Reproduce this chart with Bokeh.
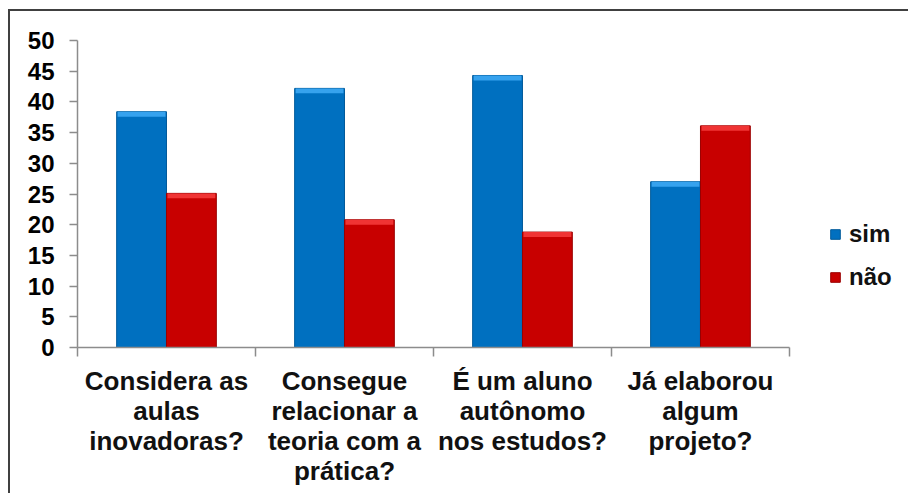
from bokeh.plotting import figure
from bokeh.models import ColumnDataSource, FixedTicker, Legend, LegendItem
from bokeh.embed import file_html
from bokeh.resources import INLINE

categories = ["Considera as\naulas\ninovadoras?",
              "Consegue\nrelacionar a\nteoria com a\nprática?",
              "É um aluno\nautônomo\nnos estudos?",
              "Já elaborou\nalgum\nprojeto?"]
sim = [38.4, 42.2, 44.3, 27.0]
nao = [25.1, 20.8, 18.8, 36.1]
series_names = ["sim", "não"]
y_ticks = [0, 5, 10, 15, 20, 25, 30, 35, 40, 45, 50]

n = len(categories)
centers = [i + 0.5 for i in range(n)]
bar_w = 0.28
bevel = 0.8

src_sim = ColumnDataSource(dict(
    x=[c - bar_w / 2 for c in centers], top=sim,
    bev=[v - bevel for v in sim]))
src_nao = ColumnDataSource(dict(
    x=[c + bar_w / 2 for c in centers], top=nao,
    bev=[v - bevel for v in nao]))

p = figure(width=900, height=484, x_range=(0, 4.68), y_range=(0, 50),
           output_backend="svg", toolbar_location=None,
           min_border_left=67, min_border_top=29, min_border_bottom=148,
           min_border_right=0,
           styles={"margin-left": "8px", "margin-top": "9px",
                   "border-left": "2px solid #404040", "border-top": "2px solid #404040"})
p.outline_line_color = None
p.xgrid.visible = False
p.ygrid.visible = False
p.background_fill_color = "white"
p.border_fill_color = "white"

r1 = p.vbar(x="x", top="top", width=bar_w, source=src_sim,
            fill_color="#0070C0", line_color="#005A9A", line_width=1)
p.vbar(x="x", top="top", bottom="bev", width=bar_w * 0.96, source=src_sim,
       fill_color="#36A2EE", line_color=None)
r2 = p.vbar(x="x", top="top", width=bar_w, source=src_nao,
            fill_color="#C80000", line_color="#9A0000", line_width=1)
p.vbar(x="x", top="top", bottom="bev", width=bar_w * 0.96, source=src_nao,
       fill_color="#F03434", line_color=None)

font = "Liberation Sans"

# y axis
p.yaxis.ticker = FixedTicker(ticks=y_ticks)
p.yaxis.axis_line_color = "#8C8C8C"
p.yaxis.axis_line_width = 1.5
p.yaxis.major_tick_line_color = "#8C8C8C"
p.yaxis.major_tick_line_width = 1.5
p.yaxis.major_tick_out = 8
p.yaxis.major_tick_in = 0
p.yaxis.minor_tick_line_color = None
p.yaxis.major_label_text_font = font
p.yaxis.major_label_text_font_style = "bold"
p.yaxis.major_label_text_font_size = "24px"
p.yaxis.major_label_text_color = "black"
p.yaxis.major_label_standoff = 15

# x axis
p.xaxis.bounds = (0, n)
p.xaxis.ticker = FixedTicker(ticks=centers, minor_ticks=list(range(n + 1)))
p.xaxis.major_label_overrides = {c: lab for c, lab in zip(centers, categories)}
p.xaxis.axis_line_color = "#8C8C8C"
p.xaxis.axis_line_width = 1.5
p.xaxis.major_tick_line_color = None
p.xaxis.major_tick_out = 0
p.xaxis.major_tick_in = 0
p.xaxis.minor_tick_line_color = "#8C8C8C"
p.xaxis.minor_tick_line_width = 1.5
p.xaxis.minor_tick_out = 9
p.xaxis.minor_tick_in = 0
p.xaxis.major_label_text_font = font
p.xaxis.major_label_text_font_style = "bold"
p.xaxis.major_label_text_font_size = "26px"
p.xaxis.major_label_text_color = "#111111"
p.xaxis.major_label_text_line_height = 1.0
p.xaxis.major_label_standoff = 9

legend = Legend(items=[LegendItem(label=series_names[0], renderers=[r1]),
                       LegendItem(label=series_names[1], renderers=[r2])],
                location=(752, 56), orientation="vertical",
                glyph_width=12, glyph_height=12, label_standoff=8,
                label_height=28, spacing=15, padding=0, margin=0,
                border_line_color=None, background_fill_alpha=0,
                label_text_font=font, label_text_font_style="bold",
                label_text_font_size="24px", label_text_color="#111111")
p.add_layout(legend, "center")

open("out.html", "w").write(file_html(p, INLINE))
